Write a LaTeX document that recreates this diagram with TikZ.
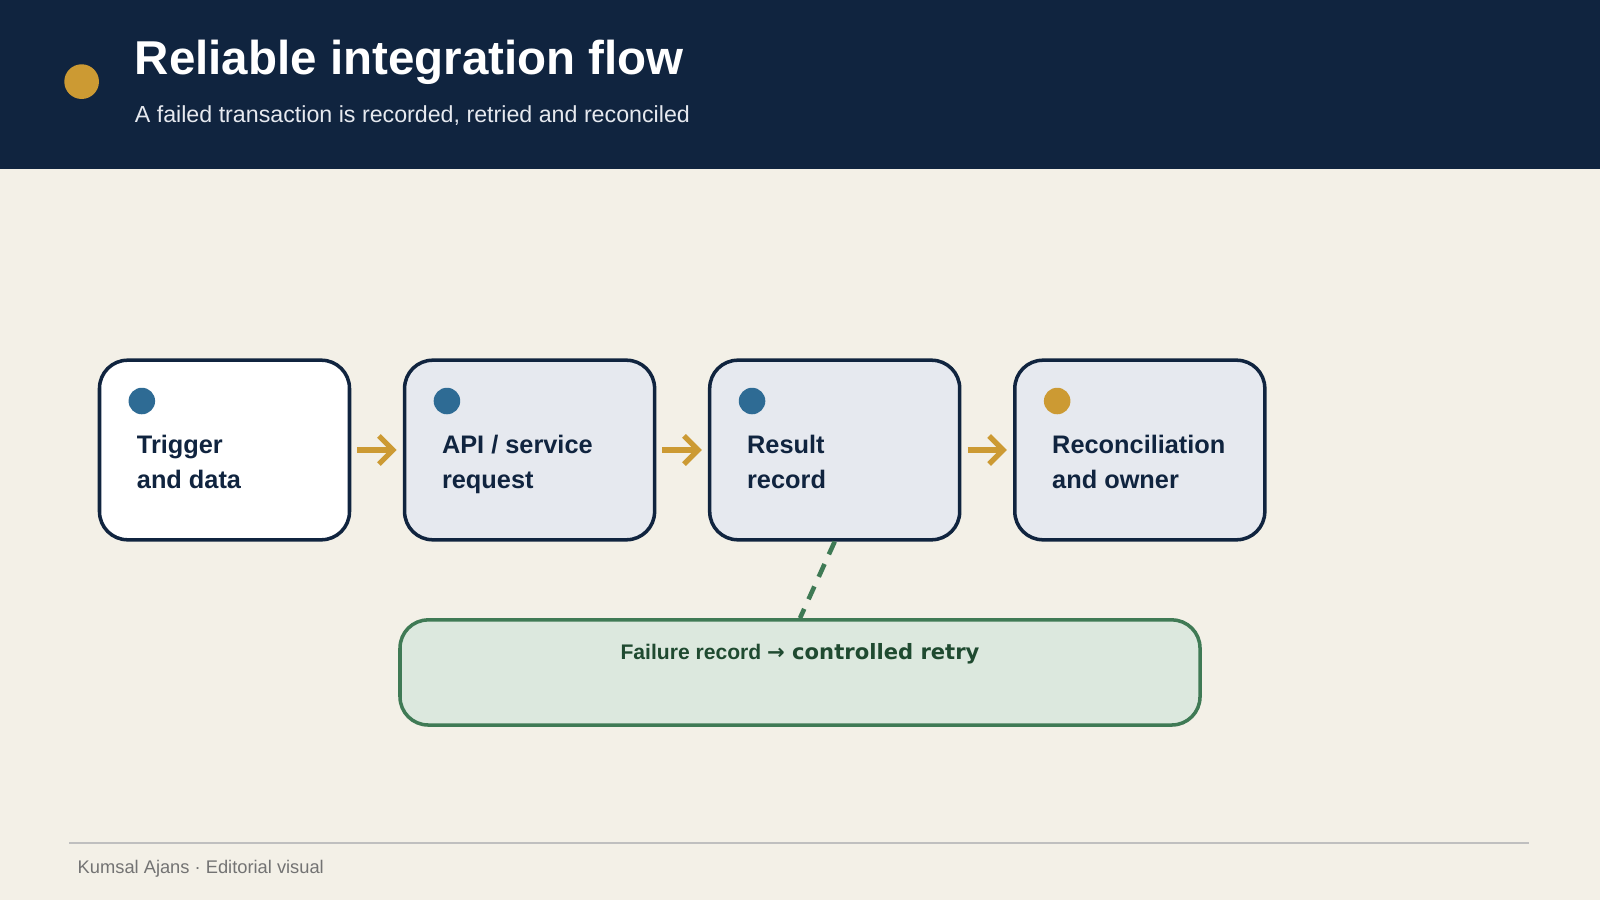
\documentclass[tikz,border=0pt]{standalone}
\usepackage{fontspec}
\setmainfont{Liberation Sans}
\usetikzlibrary{arrows.meta}
\definecolor{navy}{HTML}{10243F}
\definecolor{paper}{HTML}{F3F0E7}
\definecolor{gold}{HTML}{CC9A33}
\definecolor{steel}{HTML}{2E6B94}
\definecolor{boxfill}{HTML}{E6E9EF}
\definecolor{leaf}{HTML}{3F7A55}
\definecolor{leaffill}{HTML}{DCE8DE}
\definecolor{inkgreen}{HTML}{1F4A30}
\tikzset{
  stage/.style={draw=navy, line width=1pt, rounded corners=8pt, fill=boxfill,
    minimum width=245\px, minimum height=176\px},
  stagetext/.style={anchor=north west, align=left, text=navy,
    font=\fontsize{7.2}{10}\selectfont\bfseries},
  flow/.style={draw=gold, line width=1.5pt, -{Straight Barb[length=4pt,width=8pt]}}
}
\newlength{\px}\setlength{\px}{0.0102cm}
\begin{document}
\begin{tikzpicture}[x=0.0102cm, y=-0.0102cm]
\useasboundingbox (0,0) rectangle (1568,882);
\fill[paper] (0,0) rectangle (1568,882);
\fill[navy] (0,0) rectangle (1568,166);

% Header
\fill[gold] (80,80) circle (17);
\node[anchor=west, text=white, font=\fontsize{13.5}{16}\selectfont\bfseries] (title) at (120,61) {Reliable integration flow};
\node[anchor=west, text=boxfill, font=\fontsize{6.6}{8}\selectfont] (subtitle) at (120,113) {A failed transaction is recorded, retried and reconciled};

% Stages
\node[stage, fill=white] (trigger) at (220,441) {};
\node[stage] (api) at (519,441) {};
\node[stage] (result) at (818,441) {};
\node[stage] (recon) at (1117,441) {};

\fill[steel] (139,393) circle (13);
\fill[steel] (438,393) circle (13);
\fill[steel] (737,393) circle (13);
\fill[gold] (1036,393) circle (13);

\node[stagetext] (t1) at (122,414) {Trigger\\ and data};
\node[stagetext] (t2) at (421,414) {API / service\\request};
\node[stagetext] (t3) at (720,414) {Result\\record};
\node[stagetext] (t4) at (1019,414) {Reconciliation\\and owner};

\draw[flow] ([xshift=6\px]trigger.east) -- ([xshift=-6\px]api.west);
\draw[flow] ([xshift=6\px]api.east) -- ([xshift=-6\px]result.west);
\draw[flow] ([xshift=6\px]result.east) -- ([xshift=-6\px]recon.west);

% Failure path
\node[draw=leaf, line width=1pt, fill=leaffill, rounded corners=8pt,
  minimum width=784\px, minimum height=103\px] (failure) at (784,659) {};
\node[text=inkgreen, font=\fontsize{6}{8}\selectfont\bfseries] (failtext) at (784,641) {Failure record \fontspec{DejaVu Sans}\textbf{→} controlled retry};
\draw[leaf, line width=1.3pt, dash pattern=on 4pt off 3pt] (result.south) -- (failure.north);

% Footer
\draw[black!25, line width=0.5pt] (68,826) -- (1498,826);
\node[anchor=west, text=black!55, font=\fontsize{5.2}{7}\selectfont] (footer) at (64,851) {Kumsal Ajans · Editorial visual};
\end{tikzpicture}
\end{document}
